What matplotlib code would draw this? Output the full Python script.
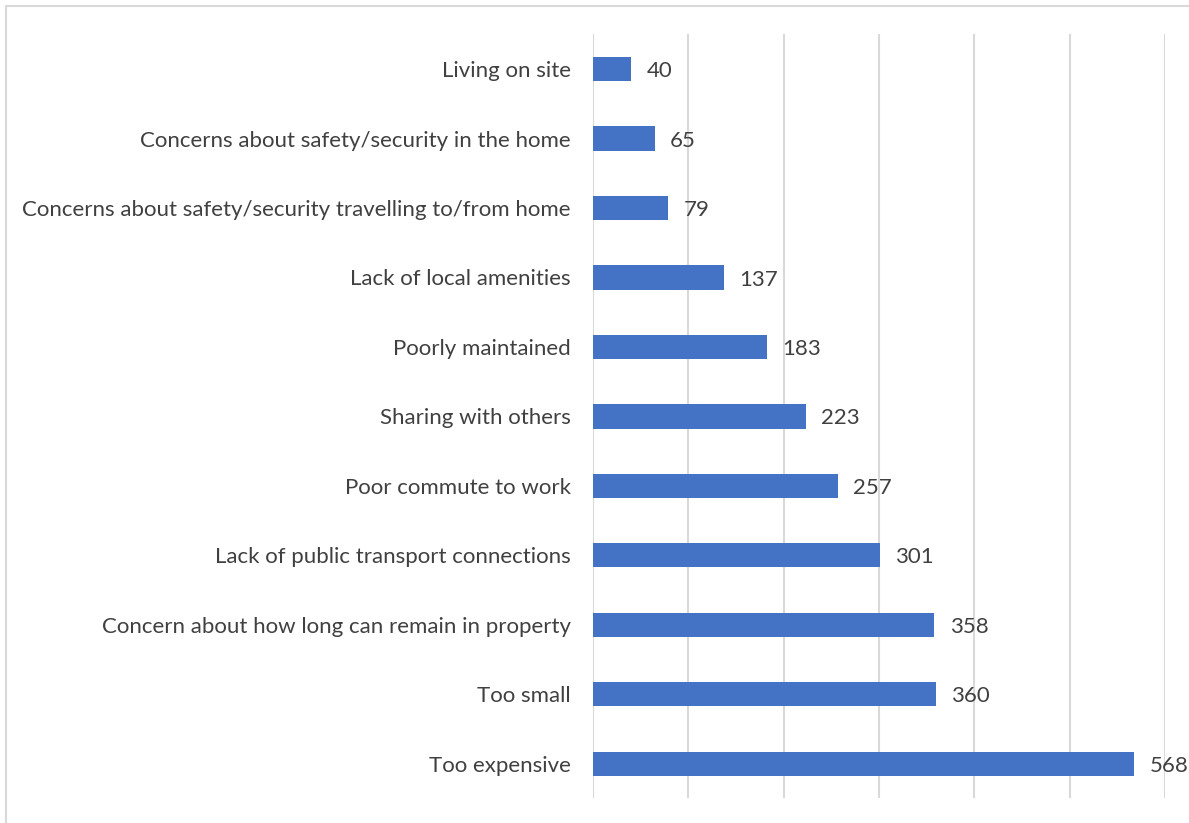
import matplotlib
matplotlib.use("Agg")
import matplotlib.pyplot as plt
from matplotlib.patches import Rectangle

# Reasons given, listed bottom to top
reasons = [
    "Too expensive",
    "Too small",
    "Concern about how long can remain in property",
    "Lack of public transport connections",
    "Poor commute to work",
    "Sharing with others",
    "Poorly maintained",
    "Lack of local amenities",
    "Concerns about safety/security travelling to/from home",
    "Concerns about safety/security in the home",
    "Living on site",
]
counts = [568, 360, 358, 301, 257, 223, 183, 137, 79, 65, 40]

BAR_COLOR = "#4472C4"
TEXT_COLOR = "#404040"
GRID_COLOR = "#D9D9D9"

plt.rcParams["font.family"] = ["Lato", "DejaVu Sans"]

fig = plt.figure(figsize=(11.89, 8.23), dpi=100)
ax = fig.add_axes([0.4987, 0.0298, 0.4811, 0.9285])

pos = list(range(len(reasons)))
bars = ax.barh(pos, counts, height=0.35, color=BAR_COLOR, zorder=3)

for bar, val in zip(bars, counts):
    ax.text(bar.get_width() + 16, bar.get_y() + bar.get_height() / 2 - 0.03, str(val),
            va="center", ha="left", fontsize=16, color=TEXT_COLOR)

ax.set_xlim(0, 600)
ax.set_ylim(-0.5, len(reasons) - 0.5)
ax.set_xticks(range(0, 601, 100))
ax.set_xticklabels([])
ax.set_yticks(pos)
ax.set_yticklabels(reasons, fontsize=16, color=TEXT_COLOR)
ax.tick_params(axis="both", length=0)
ax.tick_params(axis="y", pad=16)
ax.grid(axis="x", color=GRID_COLOR, linewidth=1.5, zorder=0)
for side in ax.spines.values():
    side.set_visible(False)

# light frame around the whole chart
fig.patches.append(Rectangle((6 / 1189, -0.05), 1.2, 1 - 5.5 / 823 + 0.05,
                             transform=fig.transFigure, fill=False,
                             edgecolor=GRID_COLOR, linewidth=1.5))

fig.savefig("out.png", dpi=100)
